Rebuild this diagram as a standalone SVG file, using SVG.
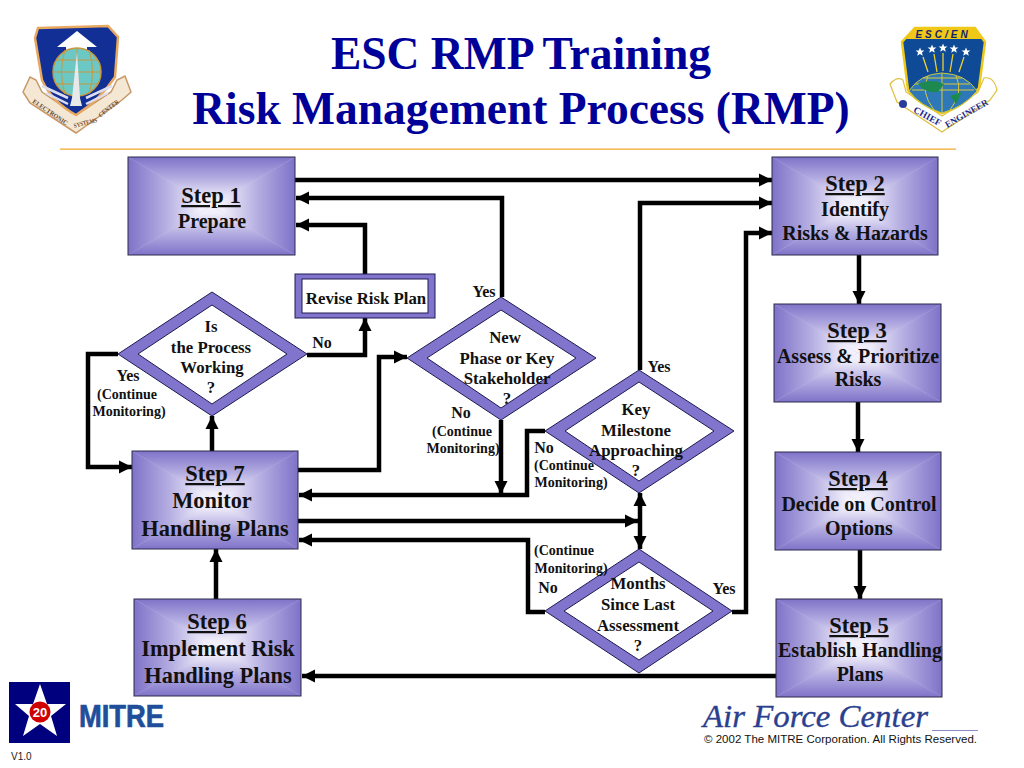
<svg xmlns="http://www.w3.org/2000/svg" width="1024" height="768" viewBox="0 0 1024 768">
<style>
text{font-family:"Liberation Serif","Times New Roman",serif;font-weight:bold;fill:#111;text-anchor:middle}
.title{font-size:45.5px;fill:#000099}
.st{font-size:22.5px;text-decoration:underline}
.b1{font-size:20px}
.b2{font-size:22.4px}
.d{font-size:16.8px}
.l{font-size:16px}
.s{font-size:14px}
.box{stroke:#2a2a4a;stroke-width:1;fill:none}
.dia{fill:#8074cc;stroke:#1c1c50;stroke-width:1}
.din{fill:#fff;stroke:#1c1c50;stroke-width:1}
.c{fill:none;stroke:#000;stroke-width:4.5}
.rb1{font-size:6.5px;fill:#6a4a30}
.rb2{fill:#1a2a8c}
</style>
<defs>
<linearGradient id="gT" x1="0" y1="0" x2="0" y2="1"><stop offset="0" stop-color="#7f72c8"/><stop offset=".45" stop-color="#b5aee2"/><stop offset=".85" stop-color="#f0eefa"/><stop offset="1" stop-color="#f4f3fb"/></linearGradient>
<linearGradient id="gB" x1="0" y1="1" x2="0" y2="0"><stop offset="0" stop-color="#7f72c8"/><stop offset=".45" stop-color="#b5aee2"/><stop offset=".85" stop-color="#f0eefa"/><stop offset="1" stop-color="#f4f3fb"/></linearGradient>
<linearGradient id="gL" x1="0" y1="0" x2="1" y2="0"><stop offset="0" stop-color="#7f72c8"/><stop offset=".45" stop-color="#b5aee2"/><stop offset=".85" stop-color="#f0eefa"/><stop offset="1" stop-color="#f4f3fb"/></linearGradient>
<linearGradient id="gR" x1="1" y1="0" x2="0" y2="0"><stop offset="0" stop-color="#7f72c8"/><stop offset=".45" stop-color="#b5aee2"/><stop offset=".85" stop-color="#f0eefa"/><stop offset="1" stop-color="#f4f3fb"/></linearGradient>
<symbol id="grad" viewBox="0 0 100 100" preserveAspectRatio="none">
<rect width="100" height="100" fill="#c8c2ea"/>
<polygon points="0,0 100,0 50,50" fill="url(#gT)"/>
<polygon points="0,100 100,100 50,50" fill="url(#gB)"/>
<polygon points="0,0 0,100 50,50" fill="url(#gL)"/>
<polygon points="100,0 100,100 50,50" fill="url(#gR)"/>
</symbol>
<marker id="a" markerUnits="userSpaceOnUse" markerWidth="14" markerHeight="14" refX="13" refY="7" orient="auto-start-reverse"><path d="M0,0.5L13,7L0,13.5Z" fill="#000"/></marker>
<polygon id="star" points="0,-4.6 1.2,-1.5 4.4,-1.4 1.9,.6 2.8,3.7 0,1.9 -2.8,3.7 -1.9,.6 -4.4,-1.4 -1.2,-1.5" fill="#fff"/>
</defs>

<g id="title">
<text class="title" x="521" y="69">ESC RMP Training</text>
<text class="title" x="521" y="124">Risk Management Process (RMP)</text>
<rect x="60" y="148.500" width="896" height="1.300" fill="#f0ac38"/>
</g>

<g id="logo-esc">
<path d="M23,92 L30,77 L36,80 L42,92 L76,115 L111,92 L117,80 L125,76 L131,92 L122,100 L76,133 L30,103Z" fill="#f4e8d4" stroke="#c89868" stroke-width="1.5"/>
<path d="M38,28 L108,26 L118,37 L115,77 Q100,100 76,115 Q52,102 42,80 L35,38Z" fill="#122f96" stroke="#e8a860" stroke-width="2.5"/>
<polygon points="77,31 97,47 87,47 87,52 66,52 66,47 57,47" fill="#fff"/>
<circle cx="77" cy="72" r="24" fill="#6cc8c4" stroke="#c8983c" stroke-width="1.5"/>
<path d="M53,72H101M56,60H98M56,84H98M77,48V96M65,50Q58,72 65,94M89,50Q96,72 89,94" fill="none" stroke="#c8983c" stroke-width="1"/>
<polygon points="77,52 80,98 82,106 70,106 72,98" fill="#e8e8e8"/>
<path d="M42,86L68,98M46,93L68,104M112,86L86,98M108,93L86,104" stroke="#dde" stroke-width="2.5" fill="none"/>
<text class="rb1" transform="translate(49,114) rotate(34)" x="0" y="0" textLength="41" lengthAdjust="spacingAndGlyphs">ELECTRONIC</text>
<text class="rb1" transform="translate(86,125) rotate(-14)" x="0" y="0" textLength="24" lengthAdjust="spacingAndGlyphs">SYSTEMS</text>
<text class="rb1" transform="translate(110,110) rotate(-38)" x="0" y="0" textLength="24" lengthAdjust="spacingAndGlyphs">CENTER</text>
</g>

<g id="logo-chief">
<path d="M890,84 Q897,76 903,80 L906,92 L942,116 L978,92 L984,78 Q994,76 997,90 L990,100 L942,132 L897,102Z" fill="#fff" stroke="#e0c040" stroke-width="1.2"/>
<path d="M915,28 L975,28 L985,42 L979,88 Q962,108 942,113 Q918,104 908,90 L902,42Z" fill="#0f4a96" stroke="#f0c818" stroke-width="2.5"/>
<path d="M906,39 L915,29 L975,29 L983,39Z" fill="#f0c818"/>
<path d="M909,91 Q920,74 942,73 Q966,74 977,91 Q964,107 942,113 Q920,106 909,91Z" fill="#2f78b8" stroke="#c8c840" stroke-width="1"/>
<path d="M915,84H970M912,90H974M923,78H962M942,73V113M928,76Q920,92 934,110M956,76Q964,92 950,110" fill="none" stroke="#d8c838" stroke-width="1"/>
<path d="M918,84Q932,78 944,84L938,92Q926,94 918,84ZM950,96L962,92L956,104Z" fill="#1c8a50"/>
<use href="#star" x="920" y="52"/><use href="#star" x="932" y="49"/><use href="#star" x="943" y="48"/><use href="#star" x="954" y="49"/><use href="#star" x="966" y="52"/>
<path d="M923,57L928,72M934,54L937,72M943,53V71M953,54L950,72M964,57L959,72" stroke="#e8d030" stroke-width="1.3" fill="none"/>
<circle cx="903" cy="104" r="4" fill="#2a3c9c"/>
<text class="rb2" transform="translate(926,119) rotate(29)" x="0" y="0" font-size="9.5">CHIEF</text>
<text class="rb2" transform="translate(968,116) rotate(-30)" x="0" y="0" font-size="9">ENGINEER</text>
<text x="943" y="37.500" style="font-family:'Liberation Sans',sans-serif;fill:#14246c;font-style:italic" font-size="10" letter-spacing="3">ESC/EN</text>
</g>

<g id="connectors">
<path class="c" marker-end="url(#a)" d="M295,180H772"/>
<path class="c" marker-end="url(#a)" d="M502,297V198H296"/>
<path class="c" marker-end="url(#a)" d="M365,274V225H296"/>
<path class="c" marker-end="url(#a)" d="M640,370V203H772"/>
<path class="c" marker-end="url(#a)" d="M732,612H746V233H772"/>
<path class="c" marker-end="url(#a)" d="M859,255V304"/>
<path class="c" marker-end="url(#a)" d="M858,402V452"/>
<path class="c" marker-end="url(#a)" d="M860,550V599"/>
<path class="c" marker-end="url(#a)" d="M776,676H302"/>
<path class="c" marker-end="url(#a)" d="M216,599V549"/>
<path class="c" marker-end="url(#a)" d="M212,451V416"/>
<path class="c" marker-end="url(#a)" d="M118,354H88V467H132"/>
<path class="c" marker-end="url(#a)" d="M307,355H365V318"/>
<path class="c" marker-end="url(#a)" d="M298,470H379V357H407"/>
<path class="c" marker-end="url(#a)" d="M501,420V494"/>
<path class="c" marker-end="url(#a)" d="M545,431H527V495H299"/>
<path class="c" marker-end="url(#a)" d="M298,521H638"/>
<path class="c" marker-start="url(#a)" marker-end="url(#a)" d="M640,493V549"/>
<path class="c" marker-end="url(#a)" d="M545,612H528V540H299"/>
</g>

<g id="step1"><use href="#grad" x="128" y="157" width="167" height="98"/><rect class="box" x="128" y="157" width="167" height="98"/>
<text class="st" x="211" y="203">Step 1</text><text class="b1" x="212" y="228">Prepare</text></g>
<g id="step2"><use href="#grad" x="772" y="157" width="166" height="98"/><rect class="box" x="772" y="157" width="166" height="98"/>
<text class="st" x="855" y="191">Step 2</text><text class="b1" x="855" y="216">Identify</text><text class="b1" x="855" y="240">Risks &amp; Hazards</text></g>
<g id="step3"><use href="#grad" x="774" y="304" width="167" height="98"/><rect class="box" x="774" y="304" width="167" height="98"/>
<text class="st" x="857" y="338">Step 3</text><text class="b1" x="858" y="363">Assess &amp; Prioritize</text><text class="b1" x="858" y="386">Risks</text></g>
<g id="step4"><use href="#grad" x="775" y="452" width="166" height="98"/><rect class="box" x="775" y="452" width="166" height="98"/>
<text class="st" x="858" y="486">Step 4</text><text class="b1" x="859" y="511">Decide on Control</text><text class="b1" x="859" y="535">Options</text></g>
<g id="step5"><use href="#grad" x="776" y="599" width="166" height="98"/><rect class="box" x="776" y="599" width="166" height="98"/>
<text class="st" x="859" y="633">Step 5</text><text class="b1" x="860" y="657">Establish Handling</text><text class="b1" x="860" y="681">Plans</text></g>
<g id="step6"><use href="#grad" x="134" y="599" width="167" height="97"/><rect class="box" x="134" y="599" width="167" height="97"/>
<text class="st" x="217" y="629">Step 6</text><text class="b2" x="218" y="656">Implement Risk</text><text class="b2" x="218" y="683">Handling Plans</text></g>
<g id="step7"><use href="#grad" x="132" y="451" width="166" height="98"/><rect class="box" x="132" y="451" width="166" height="98"/>
<text class="st" x="215" y="481">Step 7</text><text class="b2" x="212" y="508">Monitor</text><text class="b2" x="215" y="536">Handling Plans</text></g>

<g id="revise"><rect x="295" y="274" width="140" height="44" fill="#8074cc" stroke="#1c1c50"/><rect x="302" y="279" width="126" height="34" fill="#fff" stroke="#1c1c50"/>
<text x="366" y="304" style="font-size:16.8px">Revise Risk Plan</text></g>

<g id="d-process"><polygon class="dia" points="212,292 307,354 212,416 118,354"/><polygon class="din" points="212,305 287,354 212,404 138,354"/>
<text class="d" x="211" y="332">Is</text><text class="d" x="211" y="353">the Process</text><text class="d" x="212" y="373">Working</text><text class="d" x="211" y="393">?</text></g>
<g id="d-phase"><polygon class="dia" points="501,297 596,358 501,420 407,358"/><polygon class="din" points="501,310 576,358 501,408 427,358"/>
<text class="d" x="505" y="343">New</text><text class="d" x="507" y="364">Phase or Key</text><text class="d" x="507" y="384">Stakeholder</text><text class="d" x="507" y="404">?</text></g>
<g id="d-milestone"><polygon class="dia" points="639,370 734,431 639,493 545,431"/><polygon class="din" points="639,382 714,431 639,481 565,431"/>
<text class="d" x="636" y="415">Key</text><text class="d" x="636" y="436">Milestone</text><text class="d" x="636" y="456">Approaching</text><text class="d" x="636" y="476">?</text></g>
<g id="d-months"><polygon class="dia" points="639,549 732,611 639,673 545,611"/><polygon class="din" points="639,562 713,611 639,660 564,611"/>
<text class="d" x="638" y="589">Months</text><text class="d" x="638" y="610">Since Last</text><text class="d" x="638" y="631">Assessment</text><text class="d" x="638" y="651">?</text></g>

<g id="labels">
<text class="l" x="484" y="297">Yes</text>
<text class="l" x="322" y="348">No</text>
<text class="l" x="128" y="381">Yes</text>
<text class="s" x="127" y="399">(Continue</text>
<text class="s" x="129" y="416">Monitoring)</text>
<text class="l" x="461" y="418">No</text>
<text class="s" x="462" y="436">(Continue</text>
<text class="s" x="463" y="453">Monitoring)</text>
<text class="l" x="659" y="372">Yes</text>
<text class="l" x="544" y="453">No</text>
<text class="s" x="564" y="470">(Continue</text>
<text class="s" x="571" y="487">Monitoring)</text>
<text class="s" x="564" y="555">(Continue</text>
<text class="s" x="571" y="573">Monitoring)</text>
<text class="l" x="548" y="593">No</text>
<text class="l" x="724" y="594">Yes</text>
</g>

<g id="logo-mitre">
<rect x="9" y="682" width="61" height="61" fill="#00007f"/>
<polygon points="40,684 47,704 66,704 51,716 57,736 40,724 23,736 29,716 15,704 33,704" fill="#fff"/>
<circle cx="40" cy="712" r="10.5" fill="#d00000"/>
<text x="40" y="717" style="font-family:'Liberation Sans',sans-serif;font-size:13px;fill:#fff">20</text>
<text x="79" y="727" textLength="85" lengthAdjust="spacingAndGlyphs" stroke="#1f4e9a" stroke-width=".7" style="font-family:'Liberation Sans',sans-serif;font-size:31px;fill:#1f4e9a;text-anchor:start">MITRE</text>
<text x="11" y="760" style="font-family:'Liberation Sans',sans-serif;font-size:10px;font-weight:normal;text-anchor:start;fill:#222">V1.0</text>
</g>

<g id="logo-af">
<text x="703" y="727" textLength="225" lengthAdjust="spacingAndGlyphs" stroke="#2b3f8f" stroke-width=".35" style="font-size:31px;font-weight:normal;font-style:italic;fill:#2b3f8f;text-anchor:start">Air Force Center</text>
<line x1="932" y1="730.500" x2="978" y2="730.500" stroke="#8a8ac8" stroke-width="1"/>
<text x="704" y="743" textLength="273" style="font-family:'Liberation Sans',sans-serif;font-size:11.5px;font-weight:normal;text-anchor:start;fill:#111">© 2002 The MITRE Corporation. All Rights Reserved.</text>
</g>
</svg>
